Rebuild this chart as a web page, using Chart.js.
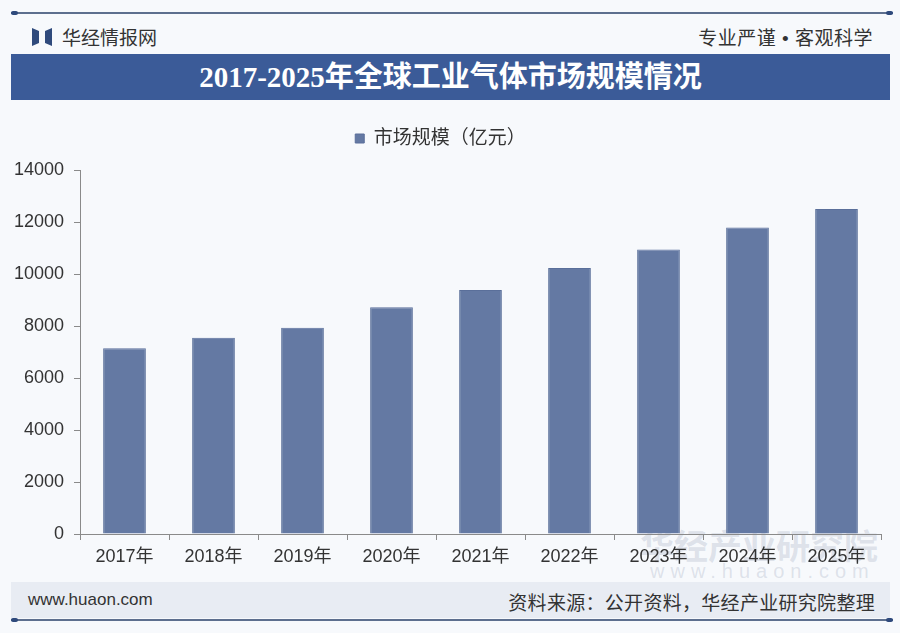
<!DOCTYPE html>
<html>
<head>
<meta charset="utf-8">
<script src="https://cdn.jsdelivr.net/npm/chart.js@4.4.1/dist/chart.umd.min.js"></script>
<style>
  html, body { margin:0; padding:0; }
  body { width:900px; height:633px; position:relative; overflow:hidden;
         background:#f7f9fc; font-family:"Liberation Sans","Noto Sans CJK SC",sans-serif; }
  .rule { position:absolute; left:11px; width:882px; height:2px; background:#5d6f8e; }
  .rule::before, .rule::after { content:""; position:absolute; top:-1px; width:7px; height:4px; background:#2f4a7c; border-radius:2px; }
  .rule::before { left:0; } .rule::after { right:0; }
  #brand { position:absolute; left:32px; top:23px; font-size:19px; color:#333; display:flex; align-items:center; }
  #brand .logo { width:20px; height:18px; margin-right:10px; }
  #motto { position:absolute; right:27px; top:23px; font-size:19px; color:#333; letter-spacing:0.5px; }
  #banner { position:absolute; left:11px; top:54px; width:879px; height:46px; background:#3b5b98;
            color:#fff; text-align:center; line-height:46px; font-size:29px; font-weight:bold;
            font-family:"Liberation Serif","Noto Sans CJK SC",serif; }
  #wrap { position:absolute; left:0; top:97px; width:900px; height:483px; }
  #foot { position:absolute; left:11px; top:582px; width:879px; height:36px; background:#e8ecf3; }
  #site { position:absolute; left:28px; top:590px; font-size:17px; color:#333; }
  #src { position:absolute; right:25px; top:588px; font-size:19px; color:#333; letter-spacing:0.3px; }
  .wm { position:absolute; color:rgba(160,170,190,0.3); font-weight:bold; white-space:nowrap; }
</style>
</head>
<body>
<div class="rule" style="top:12px"></div>
<div id="brand">
  <svg class="logo" viewBox="0 0 20 18"><path d="M0 0 L7 3 L7 15 L0 18 Z M20 0 L13 3 L13 15 L20 18 Z" fill="#2f4a7c"/></svg>
  华经情报网
</div>
<div id="motto">专业严谨 • 客观科学</div>
<div id="banner">2017-2025年全球工业气体市场规模情况</div>
<div class="wm" style="left:640px;top:520px;font-size:34px;">华经产业研究院</div>
<div class="wm" style="left:650px;top:560px;font-size:20px;letter-spacing:6px;font-weight:normal;">www.huaon.com</div>
<div id="wrap"><canvas id="chart"></canvas></div>
<div id="foot"></div>
<div id="site">www.huaon.com</div>
<div id="src">资料来源：公开资料，华经产业研究院整理</div>
<div class="rule" style="top:619px"></div>

<script>
// data
const years = ['2017年','2018年','2019年','2020年','2021年','2022年','2023年','2024年','2025年'];
const marketSize = [7140, 7550, 7930, 8720, 9380, 10230, 10940, 11790, 12500];
const seriesName = '市场规模（亿元）';
const yMax = 14000;
const yStep = 2000;

// extra room under the legend, like the reference
const legendGap = {
  id: 'legendGap',
  beforeInit(chart){
    const fit = chart.legend.fit;
    chart.legend.fit = function(){
      fit.bind(chart.legend)();
      this.height += 12;
    };
  }
};

const ctx = document.getElementById('chart').getContext('2d');
const chart = new Chart(ctx, {
  type: 'bar',
  data: {
    labels: years,
    datasets: [{
      label: seriesName,
      data: marketSize,
      backgroundColor: '#6479a3',
      borderColor: '#5a6f9a',
      borderWidth: 1,
      categoryPercentage: 1,
      barPercentage: 0.48
    }]
  },
  options: {
    responsive: true,
    maintainAspectRatio: false,
    animation: false,
    layout: { padding: { left: 0, right: 19, top: 2, bottom: 0 } },
    plugins: {
      tooltip: { enabled: false },
      legend: {
        display: true,
        position: 'top',
        labels: {
          boxWidth: 9, boxHeight: 9, padding: 30,
          color: '#333',
          font: { size: 19, family: '"Liberation Sans","Noto Sans CJK SC",sans-serif' }
        }
      }
    },
    scales: {
      x: {
        offset: true,
        afterFit: (s) => { s.height = 46; },
        grid: { display: true, offset: true, drawOnChartArea: false, drawTicks: true, tickLength: 6, color: '#8a8a8a' },
        border: { display: true, color: '#8a8a8a' },
        ticks: { color: '#333', padding: 6, maxRotation: 0,
                 font: { size: 18, family: '"Liberation Sans","Noto Sans CJK SC",sans-serif' } }
      },
      y: {
        min: 0, max: yMax,
        afterFit: (s) => { s.width = 80; },
        grid: { display: true, drawOnChartArea: false, drawTicks: true, tickLength: 6, color: '#8a8a8a' },
        border: { display: true, color: '#8a8a8a' },
        ticks: { stepSize: yStep, color: '#333', padding: 10,
                 callback: (v) => String(v),
                 font: { size: 18, family: '"Liberation Sans",sans-serif' } }
      }
    }
  },
  plugins: [legendGap]
});
</script>
</body>
</html>
